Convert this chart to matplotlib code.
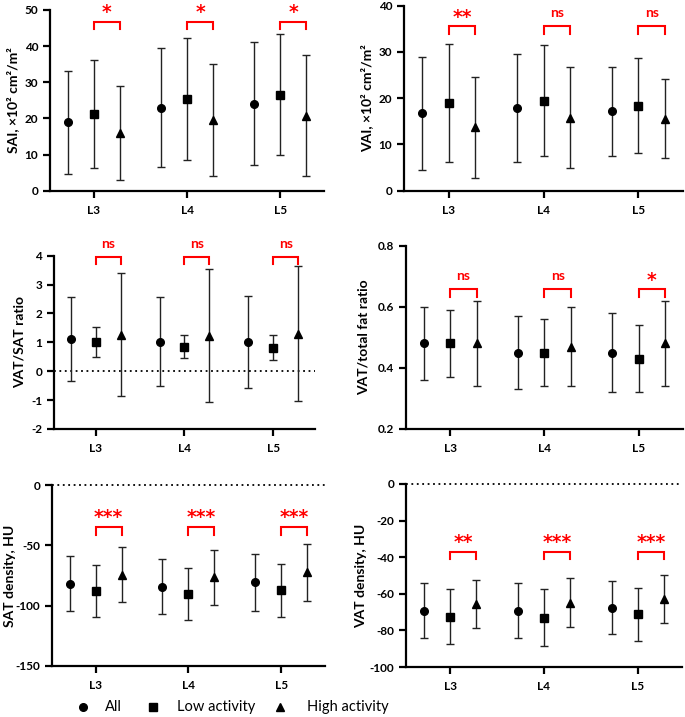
import numpy as np
import matplotlib
matplotlib.use("Agg")
import matplotlib.pyplot as plt
from matplotlib.lines import Line2D

plt.rcParams['font.family'] = ['Lato', 'DejaVu Sans']
plt.rcParams['axes.unicode_minus'] = False

# ====================== 数据区 ======================
levels = ['L3', 'L4', 'L5']
groups = ['All', 'Low activity', 'High activity']

# SAI, x10^2 cm^2/m^2  (mean, SD)
sai_all = [18.9, 23.0, 24.1]
sai_all_sd = [14.2, 16.45, 16.95]
sai_low = [21.2, 25.3, 26.6]
sai_low_sd = [14.85, 16.85, 16.85]
sai_high = [16.0, 19.6, 20.8]
sai_high_sd = [13.1, 15.4, 16.85]
sai_sig = ['*', '*', '*']

# VAI
vai_all = [16.7, 17.9, 17.2]
vai_all_sd = [12.15, 11.6, 9.6]
vai_low = [19.0, 19.5, 18.4]
vai_low_sd = [12.7, 12.0, 10.3]
vai_high = [13.7, 15.8, 15.6]
vai_high_sd = [10.85, 10.85, 8.55]
vai_sig = ['**', 'ns', 'ns']

# VAT/SAT ratio
vs_all = [1.12, 1.02, 1.02]
vs_all_sd = [1.455, 1.54, 1.585]
vs_low = [1.01, 0.85, 0.81]
vs_low_sd = [0.53, 0.39, 0.43]
vs_high = [1.27, 1.23, 1.30]
vs_high_sd = [2.14, 2.295, 2.33]
vs_sig = ['ns', 'ns', 'ns']

# VAT/total fat ratio
vt_all = [0.48, 0.45, 0.45]
vt_all_sd = [0.12, 0.12, 0.13]
vt_low = [0.48, 0.45, 0.43]
vt_low_sd = [0.11, 0.11, 0.11]
vt_high = [0.48, 0.47, 0.48]
vt_high_sd = [0.14, 0.13, 0.14]
vt_sig = ['ns', 'ns', '*']

# SAT density, HU
satd_all = [-81.8, -84.4, -80.8]
satd_all_sd = [22.95, 22.8, 23.6]
satd_low = [-87.8, -90.5, -87.3]
satd_low_sd = [21.85, 21.4, 21.8]
satd_high = [-74.2, -76.5, -72.4]
satd_high_sd = [22.5, 22.65, 23.5]
satd_sig = ['***', '***', '***']

# VAT density, HU
vatd_all = [-69.3, -69.3, -67.6]
vatd_all_sd = [14.95, 15.0, 14.45]
vatd_low = [-72.6, -73.0, -71.3]
vatd_low_sd = [15.0, 15.45, 14.5]
vatd_high = [-65.4, -64.8, -62.8]
vatd_high_sd = [13.1, 13.25, 13.1]
vatd_sig = ['**', '***', '***']
# ===================================================

OFFSET = 0.28
MARKERS = ['o', 's', '^']
MSIZES = [5.5, 5.5, 6]
RED = '#ff0000'
W, H = 685, 717


def draw_panel(ax, means, sds, sig, ylim, yticks, ylabel,
               bracket_y, drop, label_x, zero_line=False, fmt='{:g}'):
    x = np.arange(len(levels))
    for i, (m, s) in enumerate(zip(means, sds)):
        ax.errorbar(x + (i - 1) * OFFSET, m, yerr=s, fmt=MARKERS[i],
                    color='black', ms=MSIZES[i], elinewidth=1.0,
                    ecolor='#222222', capsize=3, capthick=1.0, zorder=3)
    # 显著性括号
    for j, lab in enumerate(sig):
        x0, x1 = x[j], x[j] + OFFSET
        ax.plot([x0, x0, x1, x1], [bracket_y - drop, bracket_y, bracket_y, bracket_y - drop],
                color=RED, lw=1.5, clip_on=False, solid_joinstyle='miter')
        if lab == 'ns':
            ax.annotate(lab, ((x0 + x1) / 2, bracket_y), xytext=(0, 9.5),
                        textcoords='offset points', color=RED, ha='center',
                        va='center', fontsize=10, fontweight='bold',
                        annotation_clip=False)
        else:
            ax.annotate(lab, ((x0 + x1) / 2, bracket_y), xytext=(0, 6.5),
                        textcoords='offset points', color=RED, ha='center',
                        va='center', fontsize=13.5, fontweight='bold',
                        family='DejaVu Sans', annotation_clip=False)
    if zero_line:
        ax.axhline(0, color='black', ls=(0, (1, 2)), lw=1.3, clip_on=False)
    ax.set_xlim(-0.47, 2.47)
    ax.set_ylim(*ylim)
    ax.set_yticks(yticks)
    ax.set_yticklabels([fmt.format(t) for t in yticks])
    ax.set_xticks(x)
    ax.set_xticklabels(levels)
    ax.set_ylabel(ylabel, fontsize=10, fontweight='bold')
    # 纵轴标题位置（像素换算成轴坐标）
    pos = ax.get_position()
    ax.yaxis.set_label_coords((label_x / W - pos.x0) / pos.width, 0.5)
    ax.yaxis.label.set_va('center')
    for sp in ['top', 'right']:
        ax.spines[sp].set_visible(False)
    for sp in ['left', 'bottom']:
        ax.spines[sp].set_linewidth(1.6)
    ax.tick_params(width=1.6, length=5, labelsize=8.5)
    ax.tick_params(axis='x', pad=5)
    for t in ax.get_xticklabels() + ax.get_yticklabels():
        t.set_fontweight('bold')


fig = plt.figure(figsize=(6.85, 7.17), dpi=100)


def add_ax(l, r, t, b):
    return fig.add_axes([l / W, 1 - b / H, (r - l) / W, (b - t) / H])


ax1 = add_ax(50, 324, 10, 190.7)
ax2 = add_ax(404, 683, 5.7, 190.7)
ax3 = add_ax(54, 315, 255.7, 429)
ax4 = add_ax(406, 683, 245.7, 429)
ax5 = add_ax(52, 325, 485, 666)
ax6 = add_ax(406, 682, 484, 667)

draw_panel(ax1, [sai_all, sai_low, sai_high], [sai_all_sd, sai_low_sd, sai_high_sd],
           sai_sig, (0, 50), np.arange(0, 51, 10), 'SAI, ×10² cm²/m²', 46.8, 2.1, 13)
draw_panel(ax2, [vai_all, vai_low, vai_high], [vai_all_sd, vai_low_sd, vai_high_sd],
           vai_sig, (0, 40), np.arange(0, 41, 10), 'VAI, ×10² cm²/m²', 35.6, 1.7, 367)
draw_panel(ax3, [vs_all, vs_low, vs_high], [vs_all_sd, vs_low_sd, vs_high_sd],
           vs_sig, (-2, 4), np.arange(-2, 5, 1), 'VAT/SAT ratio', 3.94, 0.24, 20,
           zero_line=True)
draw_panel(ax4, [vt_all, vt_low, vt_high], [vt_all_sd, vt_low_sd, vt_high_sd],
           vt_sig, (0.2, 0.8), [0.2, 0.4, 0.6, 0.8], 'VAT/total fat ratio', 0.657, 0.024,
           364, fmt='{:.1f}')
draw_panel(ax5, [satd_all, satd_low, satd_high], [satd_all_sd, satd_low_sd, satd_high_sd],
           satd_sig, (-150, 0), np.arange(-150, 1, 50), 'SAT density, HU', -34.8, 6.6, 10,
           zero_line=True)
draw_panel(ax6, [vatd_all, vatd_low, vatd_high], [vatd_all_sd, vatd_low_sd, vatd_high_sd],
           vatd_sig, (-100, 0), np.arange(-100, 1, 20), 'VAT density, HU', -37.0, 4.2, 361,
           zero_line=True)

# 图例（手动排布）
leg_y = 1 - 707 / H
handle_x = [83, 153, 280]
text_x = [105, 177, 307]
for m, hx, tx, lab in zip(MARKERS, handle_x, text_x, groups):
    fig.add_artist(Line2D([hx / W], [leg_y], marker=m, color='black', ls='none',
                          ms=5.5, transform=fig.transFigure))
    fig.text(tx / W, leg_y, lab, ha='left', va='center', fontsize=10.5)

fig.savefig('out.png', dpi=100)
